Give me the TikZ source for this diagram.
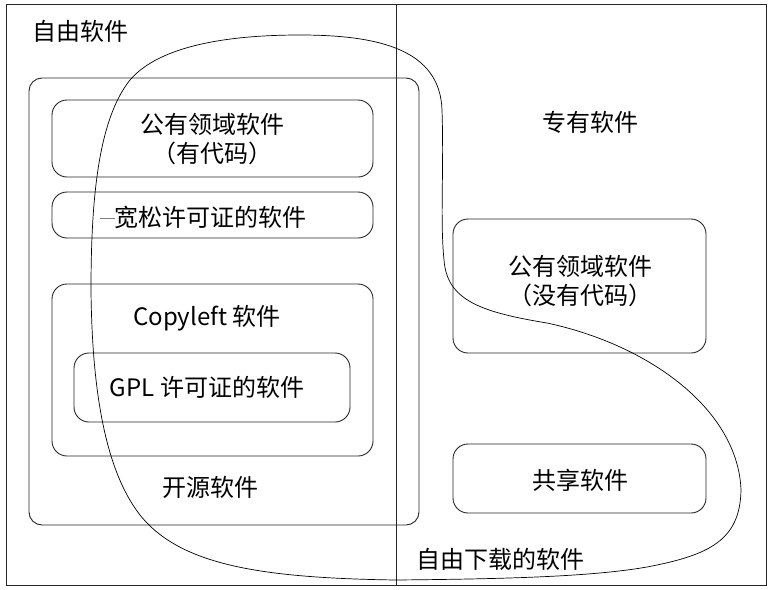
\documentclass[tikz,border=0pt]{standalone}
\usepackage{fontspec}
\setmainfont{Noto Sans CJK SC}
\begin{document}
\begin{tikzpicture}[x=1pt,y=-1pt,
  frame/.style={draw=black!85, line width=0.9pt},
  rbox/.style={draw=black!85, line width=0.9pt, rounded corners=15pt, inner sep=0pt},
  lbl/.style={inner sep=0pt, align=center, font=\fontsize{24}{29}\selectfont},
  curve/.style={draw=black, line width=0.7pt}]
\useasboundingbox (0,0) rectangle (770,589);
\node[frame, minimum width=760, minimum height=581, inner sep=0pt] (outer) at (386,294.5) {};
\coordinate (divtop) at (396,4);
\coordinate (divbot) at (396,585);
\draw[frame] (divtop) -- (divbot);
% open source box
\node[rbox, rounded corners=13pt, minimum width=390, minimum height=447] (oss) at (224,301.5) {};
\node[rbox, minimum width=321, minimum height=77] (pd) at (212.5,138.5) {};
\node[rbox, minimum width=321, minimum height=46] (perm) at (212.5,215) {};
\node[rbox, minimum width=321, minimum height=172] (cl) at (212.5,370) {};
\node[rbox, minimum width=276, minimum height=69] (gpl) at (212,387.5) {};
\node[rbox, minimum width=253, minimum height=134] (pdn) at (579.5,286) {};
\node[rbox, minimum width=253, minimum height=69] (sw) at (579.5,478.5) {};
% labels
\node[lbl, anchor=west] (tfree) at (32,31) {自由软件};
\node[lbl] (tpd) at (212,139) {公有领域软件\\（有代码）};
\node[lbl] (tperm) at (210,217) {宽松许可证的软件};
\coordinate (gl1) at (100,218);
\coordinate (gl2) at (115,218);
\draw[gray, line width=0.5pt] (gl1) -- (gl2);
\node[lbl] (tcl) at (207,318) {Copyleft 软件};
\node[lbl] (tgpl) at (207,387) {GPL 许可证的软件};
\node[lbl] (toss) at (210,487) {开源软件};
\node[lbl] (tprop) at (590,122) {专有软件};
\node[lbl] (tpdn) at (580,281) {公有领域软件\\（没有代码）};
\node[lbl] (tsw) at (580,480) {共享软件};
\node[lbl] (tdl) at (500,559) {自由下载的软件};
% freely downloadable curve
\draw[curve] (396,580) .. controls (260,578) and (180,565) .. (140,515)
  .. controls (105,470) and (92,390) .. (91,290)
  .. controls (91,200) and (98,120) .. (130,80)
  .. controls (160,45) and (230,35) .. (300,35)
  .. controls (380,35) and (440,50) .. (442,110)
  .. controls (444,170) and (440,220) .. (444,260)
  .. controls (447,300) and (480,312) .. (547,323)
  .. controls (650,345) and (738,410) .. (741,490)
  .. controls (740,540) and (710,555) .. (647,567)
  .. controls (590,577) and (500,579) .. (396,580) -- cycle;
\end{tikzpicture}
\end{document}
